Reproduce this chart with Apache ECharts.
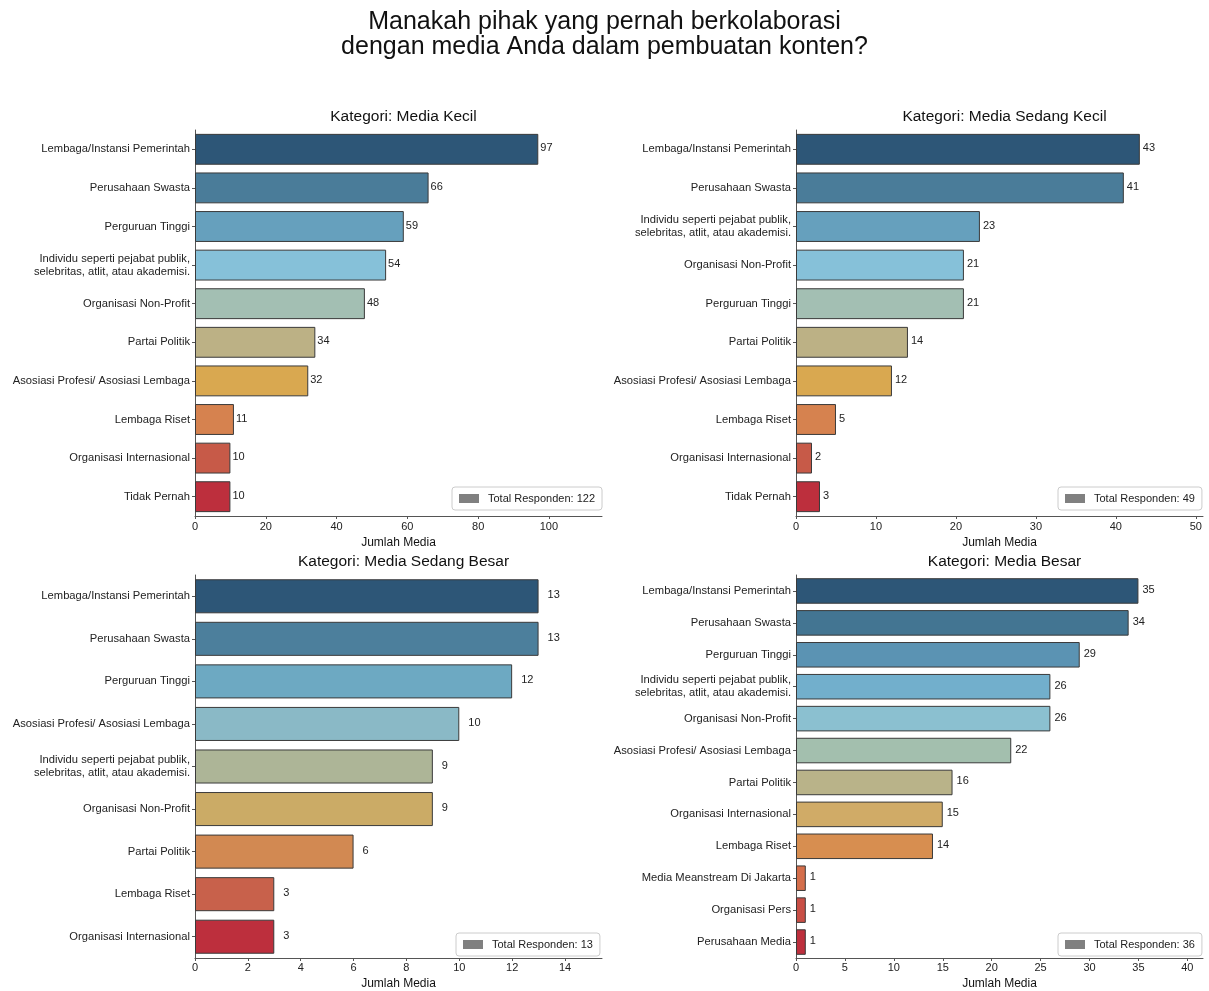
<!DOCTYPE html>
<html>
<head>
<meta charset="utf-8">
<script src="https://cdn.jsdelivr.net/npm/echarts@6/dist/echarts.min.js"></script>
<style>html,body{margin:0;padding:0;background:#fff}#c{width:1209px;height:991px}</style>
</head>
<body>
<div id="c"></div>
<script>
const mainTitle = 'Manakah pihak yang pernah berkolaborasi\ndengan media Anda dalam pembuatan konten?';

const titles = ['Kategori: Media Kecil', 'Kategori: Media Sedang Kecil', 'Kategori: Media Sedang Besar', 'Kategori: Media Besar'];
const respondents = [122, 49, 13, 36];

const cat1 = ['Lembaga/Instansi Pemerintah', 'Perusahaan Swasta', 'Perguruan Tinggi', 'Individu seperti pejabat publik,\nselebritas, atlit, atau akademisi.', 'Organisasi Non-Profit', 'Partai Politik', 'Asosiasi Profesi/ Asosiasi Lembaga', 'Lembaga Riset', 'Organisasi Internasional', 'Tidak Pernah'];
const val1 = [97, 66, 59, 54, 48, 34, 32, 11, 10, 10];

const cat2 = ['Lembaga/Instansi Pemerintah', 'Perusahaan Swasta', 'Individu seperti pejabat publik,\nselebritas, atlit, atau akademisi.', 'Organisasi Non-Profit', 'Perguruan Tinggi', 'Partai Politik', 'Asosiasi Profesi/ Asosiasi Lembaga', 'Lembaga Riset', 'Organisasi Internasional', 'Tidak Pernah'];
const val2 = [43, 41, 23, 21, 21, 14, 12, 5, 2, 3];

const cat3 = ['Lembaga/Instansi Pemerintah', 'Perusahaan Swasta', 'Perguruan Tinggi', 'Asosiasi Profesi/ Asosiasi Lembaga', 'Individu seperti pejabat publik,\nselebritas, atlit, atau akademisi.', 'Organisasi Non-Profit', 'Partai Politik', 'Lembaga Riset', 'Organisasi Internasional'];
const val3 = [13, 13, 12, 10, 9, 9, 6, 3, 3];

const cat4 = ['Lembaga/Instansi Pemerintah', 'Perusahaan Swasta', 'Perguruan Tinggi', 'Individu seperti pejabat publik,\nselebritas, atlit, atau akademisi.', 'Organisasi Non-Profit', 'Asosiasi Profesi/ Asosiasi Lembaga', 'Partai Politik', 'Organisasi Internasional', 'Lembaga Riset', 'Media Meanstream Di Jakarta', 'Organisasi Pers', 'Perusahaan Media'];
const val4 = [35, 34, 29, 26, 26, 22, 16, 15, 14, 1, 1, 1];

const xMax = [115, 50.9, 15.4, 41.6];
const ticks1 = [0, 20, 40, 60, 80, 100];
const ticks2 = [0, 10, 20, 30, 40, 50];
const ticks3 = [0, 2, 4, 6, 8, 10, 12, 14];
const ticks4 = [0, 5, 10, 15, 20, 25, 30, 35, 40];

const col10 = ['#2d5677', '#4a7c99', '#66a0bd', '#86c1d9', '#a3bfb3', '#bcb185', '#d9a850', '#d6824f', '#c75a48', '#bd2f3d'];
const col9 = ['#2d5677', '#4c7f9c', '#6da9c2', '#8ab9c6', '#adb597', '#cbab66', '#d28952', '#c8614b', '#bd2f3d'];
const col12 = ['#2d5677', '#437592', '#5b93b3', '#72afcc', '#8bc0d0', '#a3bfae', '#b9b389', '#d0ab67', '#d78e50', '#d46e4b', '#c84e45', '#bd2f3d'];

const panels = [
  {cats: cat1, vals: val1, ticks: ticks1, colors: col10, grid: {left: 195, top: 130, width: 407, height: 386}, labelDist: 2, legendPos: {left: 452, top: 487}},
  {cats: cat2, vals: val2, ticks: ticks2, colors: col10, grid: {left: 796, top: 130, width: 407, height: 386}, labelDist: 3, legendPos: {left: 1058, top: 487}},
  {cats: cat3, vals: val3, ticks: ticks3, colors: col9, grid: {left: 195, top: 575, width: 407, height: 387}, labelDist: 9, legendPos: {left: 456, top: 933}},
  {cats: cat4, vals: val4, ticks: ticks4, colors: col12, grid: {left: 796, top: 575, width: 407, height: 387}, labelDist: 4, legendPos: {left: 1058, top: 933}}
];

const FONT = 'Liberation Sans, Arial, sans-serif';
const option = {
  backgroundColor: '#fff',
  animation: false,
  textStyle: {fontFamily: FONT},
  title: [{
    text: mainTitle, left: 'center', top: 5,
    textStyle: {fontFamily: FONT, fontSize: 25, fontWeight: 'normal', color: '#111', lineHeight: 25}
  }],
  grid: [], xAxis: [], yAxis: [], series: [], legend: []
};

panels.forEach((p, i) => {
  option.grid.push(p.grid);
  option.title.push({
    text: titles[i], left: p.grid.left + p.grid.width / 2, textAlign: 'center', top: p.grid.top - 26,
    textStyle: {fontFamily: FONT, fontSize: 15.5, fontWeight: 'normal', color: '#111'}
  });
  option.xAxis.push({
    type: 'value', gridIndex: i, min: 0, max: xMax[i],
    name: 'Jumlah Media', nameLocation: 'middle', nameGap: i < 2 ? 21 : 20,
    nameTextStyle: {fontFamily: FONT, fontSize: 12, color: '#111'},
    splitLine: {show: false},
    axisLine: {show: true, lineStyle: {color: '#555', width: 1}},
    axisTick: {show: true, length: 3, lineStyle: {color: '#555'}, customValues: p.ticks},
    axisLabel: {fontFamily: FONT, fontSize: 11, color: '#222', margin: i < 2 ? 5 : 4, customValues: p.ticks}
  });
  option.yAxis.push({
    type: 'category', gridIndex: i, data: p.cats, inverse: true,
    axisLine: {show: true, lineStyle: {color: '#555', width: 1}},
    axisTick: {show: true, length: 3, alignWithLabel: true, lineStyle: {color: '#555'}},
    axisLabel: {fontFamily: FONT, fontSize: 11.2, color: '#222', margin: 5, lineHeight: 13}
  });
  option.series.push({
    type: 'bar', xAxisIndex: i, yAxisIndex: i, barCategoryGap: '20%',
    data: p.vals.map((v, k) => ({value: v, itemStyle: {color: p.colors[k]}})),
    itemStyle: {borderColor: '#3a3a3a', borderWidth: 1},
    label: {show: true, position: 'right', distance: p.labelDist, fontFamily: FONT, fontSize: 11, color: '#222', offset: [0, -1]}
  });
  const lname = 'Total Responden: ' + respondents[i];
  option.series.push({
    type: 'line', name: lname, xAxisIndex: i, yAxisIndex: i, data: [],
    itemStyle: {color: '#808080'}, lineStyle: {color: '#808080'}
  });
  option.legend.push({
    data: [{name: lname, icon: 'rect'}], left: p.legendPos.left, top: p.legendPos.top,
    itemWidth: 20, itemHeight: 9, itemGap: 5,
    borderColor: '#ccc', borderWidth: 1, borderRadius: 3, padding: [6, 7, 6, 7],
    textStyle: {fontFamily: FONT, fontSize: 11, color: '#222', padding: [0, 0, 0, 4]},
    itemStyle: {color: '#808080'}
  });
});

const chart = echarts.init(document.getElementById('c'), null, {renderer: 'canvas'});
chart.setOption(option);
</script>
</body>
</html>
